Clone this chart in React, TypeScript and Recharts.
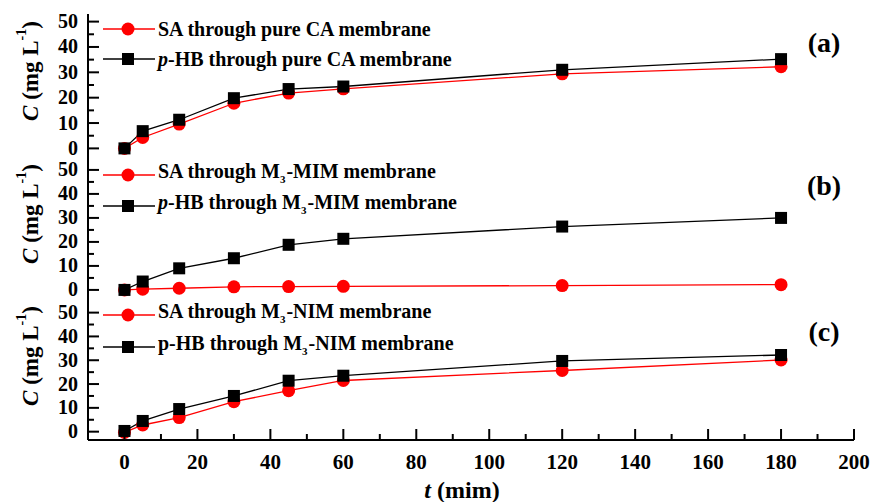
import React from 'react';
import { LineChart, Line, XAxis, YAxis } from 'recharts';

// sampling times (min)
const times = [0, 5, 15, 30, 45, 60, 120, 180];

// (a) pure CA membrane
const saPure = [0, 4.3, 9.6, 17.8, 21.8, 23.5, 29.4, 32.2];
const hbPure = [0, 6.8, 11.3, 19.8, 23.4, 24.4, 31.0, 35.2];
// (b) M3-MIM membrane
const saMim = [0, 0.3, 0.7, 1.3, 1.4, 1.5, 1.8, 2.2];
const hbMim = [0, 3.5, 9.0, 13.2, 18.8, 21.3, 26.4, 30.0];
// (c) M3-NIM membrane
const saNim = [-0.3, 2.8, 5.9, 12.6, 17.2, 21.5, 25.7, 30.1];
const hbNim = [0.3, 4.5, 9.5, 15.0, 21.4, 23.5, 29.7, 32.2];

const yTicks = [0, 5, 10, 15, 20, 25, 30, 35, 40, 45, 50];
const xTicks = [0, 10, 20, 30, 40, 50, 60, 70, 80, 90, 100, 110, 120, 130, 140, 150, 160, 170, 180, 190, 200];

const FONT = '"Liberation Serif", "Times New Roman", serif';
const RED = '#ff0000';

const YTick = (props: any) => {
  const { x, y, payload } = props;
  const major = payload.value % 10 === 0;
  return (
    <g>
      <line x1={x} x2={x + (major ? 11 : 6)} y1={y} y2={y} stroke="#000" strokeWidth={2} />
      {major && (
        <text x={x - 10} y={y} dy={6.5} textAnchor="end" fontFamily={FONT} fontWeight="bold" fontSize={20} fill="#000">
          {payload.value}
        </text>
      )}
    </g>
  );
};

const XTick = (props: any) => {
  const { x, y, payload } = props;
  const major = payload.value % 20 === 0;
  return (
    <g>
      <line x1={x} x2={x} y1={y} y2={y - (major ? 11 : 6)} stroke="#000" strokeWidth={2} />
      {major && (
        <text x={x} y={y + 29} textAnchor="middle" fontFamily={FONT} fontWeight="bold" fontSize={21} fill="#000">
          {payload.value}
        </text>
      )}
    </g>
  );
};

const Square = (props: any) => {
  const { cx, cy, index } = props;
  return <rect key={`sq-${index}`} x={cx - 6} y={cy - 6} width={12} height={12} fill="#000" />;
};

const YTitle = ({ cy }: { cy: number }) => (
  <text
    x={30}
    y={cy}
    transform={`rotate(-90 30 ${cy})`}
    textAnchor="middle"
    dominantBaseline="central"
    fontFamily={FONT}
    fontWeight="bold"
    fontSize={23}
    fill="#000"
  >
    <tspan fontStyle="italic">C</tspan>
    <tspan> (mg L</tspan>
    <tspan dy={-9} fontSize={14}>-1</tspan>
    <tspan dy={9}>)</tspan>
  </text>
);

const Sub3 = () => <sub style={{ fontSize: 11, verticalAlign: -5, marginRight: 1 }}>3</sub>;

const LegendRow = ({ top, kind, children }: { top: number; kind: 'sa' | 'hb'; children: React.ReactNode }) => (
  <div style={{ position: 'absolute', left: 103, top: top - 13, height: 26, display: 'flex', alignItems: 'center' }}>
    <svg width={52} height={26}>
      <line x1={0} x2={52} y1={13} y2={13} stroke={kind === 'sa' ? RED : '#000'} strokeWidth={1.3} />
      {kind === 'sa' ? (
        <circle cx={25} cy={13} r={6.5} fill={RED} />
      ) : (
        <rect x={19} y={7} width={12} height={12} fill="#000" />
      )}
    </svg>
    <span style={{ marginLeft: 3, fontFamily: FONT, fontWeight: 'bold', fontSize: 20, whiteSpace: 'nowrap', lineHeight: '26px' }}>
      {children}
    </span>
  </div>
);

type PanelProps = {
  top: number;
  height: number;
  plotTop: number;
  plotHeight: number;
  domain: [number, number];
  sa: number[];
  hb: number[];
  bottomAxis: boolean;
  letter: string;
  letterY: number;
  legendY: [number, number];
  saText: React.ReactNode;
  hbText: React.ReactNode;
};

const Panel = (p: PanelProps) => {
  const data = times.map((t, i) => ({ t, sa: p.sa[i], hb: p.hb[i] }));
  const cy = p.plotTop + p.plotHeight / 2 - 14;
  // upper panels get a spare strip below the frame so the "0" label is not clipped
  const extra = p.bottomAxis ? 0 : 12;
  return (
    <div style={{ position: 'absolute', left: 0, top: p.top, width: 872, height: p.height + extra }}>
      <LineChart
        width={872}
        height={p.height + extra}
        data={data}
        margin={{ top: p.plotTop, right: 18, left: 0, bottom: extra }}
      >
        <XAxis
          dataKey="t"
          type="number"
          domain={[-10, 200]}
          allowDataOverflow
          ticks={xTicks}
          interval={0}
          tickSize={0}
          tickMargin={0}
          tickLine={false}
          tick={p.bottomAxis ? <XTick /> : false}
          height={p.bottomAxis ? 62 : 0}
          axisLine={{ stroke: '#000', strokeWidth: 2 }}
          label={
            p.bottomAxis
              ? {
                  content: () => (
                    <text x={462} y={p.height - 4} textAnchor="middle" fontFamily={FONT} fontWeight="bold" fontSize={24} fill="#000">
                      <tspan fontStyle="italic">t</tspan>
                      <tspan> (mim)</tspan>
                    </text>
                  ),
                }
              : undefined
          }
        />
        <XAxis xAxisId="top" orientation="top" type="number" domain={[-10, 200]} height={0} tick={false} tickLine={false} axisLine={{ stroke: '#000', strokeWidth: 2 }} />
        <YAxis
          type="number"
          domain={p.domain}
          allowDataOverflow
          ticks={yTicks}
          interval={0}
          width={88}
          tickSize={0}
          tickMargin={0}
          tickLine={false}
          tick={<YTick />}
          axisLine={{ stroke: '#000', strokeWidth: 2 }}
          label={{ content: () => <YTitle cy={cy} /> }}
        />
        <YAxis yAxisId="r" orientation="right" type="number" domain={p.domain} width={0} tick={false} tickLine={false} axisLine={{ stroke: '#000', strokeWidth: 2 }} />
        <Line
          dataKey="sa"
          stroke={RED}
          strokeWidth={1.3}
          dot={{ r: 6.5, fill: RED, stroke: RED, strokeWidth: 0 }}
          activeDot={false}
          isAnimationActive={false}
        />
        <Line dataKey="hb" stroke="#000" strokeWidth={1.3} dot={<Square />} activeDot={false} isAnimationActive={false} />
      </LineChart>
      <LegendRow top={p.legendY[0]} kind="sa">{p.saText}</LegendRow>
      <LegendRow top={p.legendY[1]} kind="hb">{p.hbText}</LegendRow>
      <div
        style={{
          position: 'absolute',
          left: 790,
          width: 68,
          textAlign: 'center',
          top: p.letterY - 17,
          lineHeight: '34px',
          fontFamily: FONT,
          fontWeight: 'bold',
          fontSize: 28,
        }}
      >
        {p.letter}
      </div>
    </div>
  );
};

export default function App() {
  return (
    <div style={{ position: 'absolute', left: 0, top: 0, width: 872, height: 502, background: '#fff', overflow: 'hidden' }}>
      <Panel
        top={0}
        height={156}
        plotTop={14}
        plotHeight={142}
        domain={[-3, 53]}
        sa={saPure}
        hb={hbPure}
        bottomAxis={false}
        letter="(a)"
        letterY={43}
        legendY={[29, 59]}
        saText="SA through pure CA membrane"
        hbText={<><i>p</i>-HB through pure CA membrane</>}
      />
      <Panel
        top={156}
        height={144}
        plotTop={0}
        plotHeight={144}
        domain={[-4.2, 55.8]}
        sa={saMim}
        hb={hbMim}
        bottomAxis={false}
        letter="(b)"
        letterY={30}
        legendY={[19, 50]}
        saText={<>SA through M<Sub3 />-MIM membrane</>}
        hbText={<><i>p</i>-HB through M<Sub3 />-MIM membrane</>}
      />
      <Panel
        top={300}
        height={202}
        plotTop={0}
        plotHeight={140}
        domain={[-3.5, 55.3]}
        sa={saNim}
        hb={hbNim}
        bottomAxis={true}
        letter="(c)"
        letterY={32}
        legendY={[15, 47]}
        saText={<>SA through M<Sub3 />-NIM membrane</>}
        hbText={<>p-HB through M<Sub3 />-NIM membrane</>}
      />
    </div>
  );
}
